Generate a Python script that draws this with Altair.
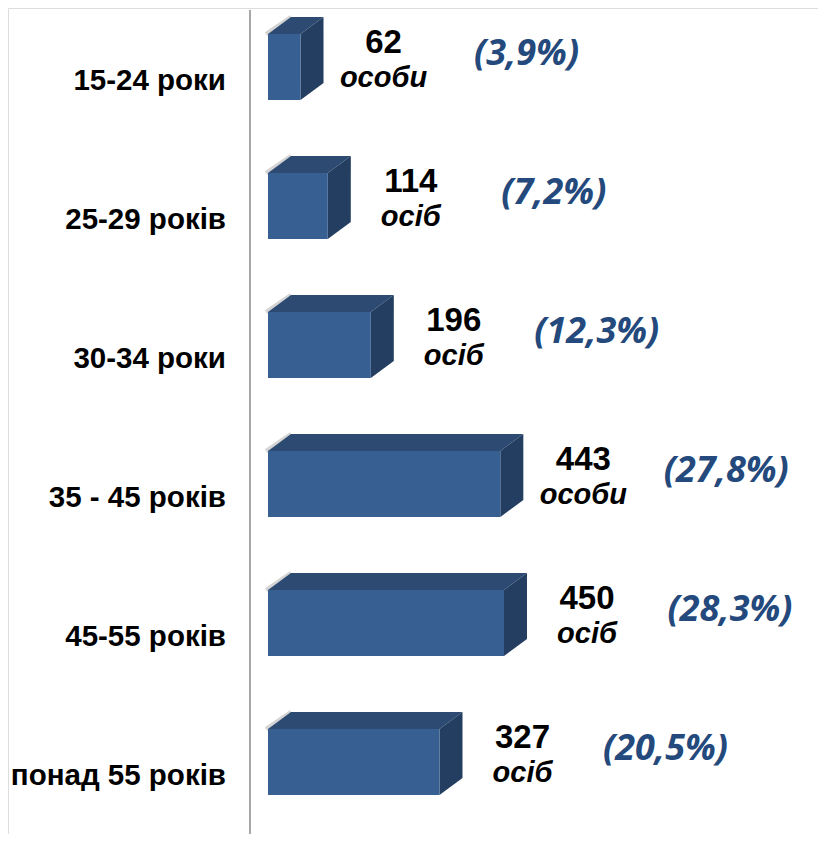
import altair as alt
import pandas as pd

categories = ["15-24 роки", "25-29 років", "30-34 роки", "35 - 45 років", "45-55 років", "понад 55 років"]
values = [62, 114, 196, 443, 450, 327]
units = ["особи", "осіб", "осіб", "особи", "осіб", "осіб"]
percents = ["(3,9%)", "(7,2%)", "(12,3%)", "(27,8%)", "(28,3%)", "(20,5%)"]

# style constants (pixel geometry of the 3D effect)
PX_PER_UNIT = 236.0 / 450.0
ROW_PX = 139.0
HALF = 33.0 / ROW_PX          # half height of the front face, in rows
DEPTH_X = 23.0 / PX_PER_UNIT  # depth offset in value units
DEPTH_Y = 17.0 / ROW_PX       # depth offset in rows

FRONT = "#375F92"
TOP = "#2C4A72"
SIDE = "#233E60"
PCT = "#24497C"
FONT = "Arial, Liberation Sans, sans-serif"

xs = alt.Scale(domain=[0, 450], range=[260, 496])
ys = alt.Scale(domain=[0, 5], range=[59, 754])

front = pd.DataFrame({
    "cat": categories,
    "v": values,
    "x0": [0] * len(values),
    "xd": [DEPTH_X] * len(values),
    "y1": [i - HALF for i in range(len(values))],
    "y2": [i + HALF for i in range(len(values))],
    "yt": [i - HALF - DEPTH_Y for i in range(len(values))],
    "row": list(range(len(values))),
    "unit": units,
    "pct": percents,
})

face_layers = []
for i, v in enumerate(values):
    t = i - HALF
    b = i + HALF
    top_df = pd.DataFrame({
        "px": [0.0, DEPTH_X, float(v), v + DEPTH_X],
        "py": [t - 0.0, t - DEPTH_Y, t - DEPTH_Y, t - DEPTH_Y],
        "py2": [t, t, t, t - DEPTH_Y],
    })
    side_df = pd.DataFrame({
        "px": [float(v), v + DEPTH_X],
        "py": [t, t - DEPTH_Y],
        "py2": [b, b - DEPTH_Y],
    })
    for df, col in [(top_df, TOP), (side_df, SIDE)]:
        face_layers.append(
            alt.Chart(df).mark_area(color=col, opacity=1, orient="vertical", interpolate="linear").encode(
                x=alt.X("px:Q", scale=xs, axis=None),
                y=alt.Y("py:Q", scale=ys, axis=None),
                y2=alt.Y2("py2:Q"),
            )
        )

base = alt.Chart(front)

axis_line = base.mark_rule(color="#A6A6A6", strokeWidth=2).encode(
    x=alt.value(242), y=alt.value(2), y2=alt.value(834)
)

# soft shadow along the slanted left edge of the top face and under the bottom-left corner
shadow_top = base.mark_rule(color="#B8B8B8", strokeWidth=4, opacity=0.6, xOffset=-2).encode(
    x=alt.X("x0:Q", scale=xs, axis=None), x2="xd:Q",
    y=alt.Y("y1:Q", scale=ys, axis=None), y2="yt:Q",
)
shadow_bottom = base.mark_rule(color="#BDBDBD", strokeWidth=3, opacity=0.6, xOffset=-1).encode(
    x=alt.X("x0:Q", scale=xs, axis=None),
    y=alt.Y("y2:Q", scale=ys, axis=None),
    y2=alt.value(0),
).transform_filter("false")

front_face = base.mark_rect(color=FRONT).encode(
    x=alt.X("x0:Q", scale=xs, axis=None), x2="v:Q",
    y=alt.Y("y1:Q", scale=ys, axis=None), y2="y2:Q",
)

cat_labels = base.mark_text(
    align="right", baseline="middle", font=FONT, fontWeight="bold",
    fontSize=29.5, color="#000000", dy=14
).encode(x=alt.value(218), y=alt.Y("row:Q", scale=ys), text="cat:N")

num_labels = base.mark_text(
    align="center", baseline="middle", font=FONT, fontWeight="bold",
    fontSize=33, color="#000000", dx=83, dy=-24
).encode(x=alt.X("v:Q", scale=xs), y=alt.Y("row:Q", scale=ys), text="v:Q")

unit_labels = base.mark_text(
    align="center", baseline="middle", font=FONT, fontWeight="bold",
    fontStyle="italic", fontSize=29, color="#000000", dx=83, dy=11
).encode(x=alt.X("v:Q", scale=xs), y=alt.Y("row:Q", scale=ys), text="unit:N")

pct_labels = base.mark_text(
    align="center", baseline="middle", font="Open Sans", fontWeight="bold",
    fontStyle="italic", fontSize=36, color=PCT, dx=226, dy=-13
).encode(x=alt.X("v:Q", scale=xs), y=alt.Y("row:Q", scale=ys), text="pct:N")

chart = alt.layer(
    axis_line, shadow_top, *face_layers, front_face, cat_labels, num_labels, unit_labels, pct_labels
).properties(
    width=810, height=826, autosize=alt.AutoSizeParams(type="none"), padding=0
).configure_view(stroke=None).configure(background="#ffffff")

chart.save("out.html", embed_options={"renderer": "svg", "actions": False})
